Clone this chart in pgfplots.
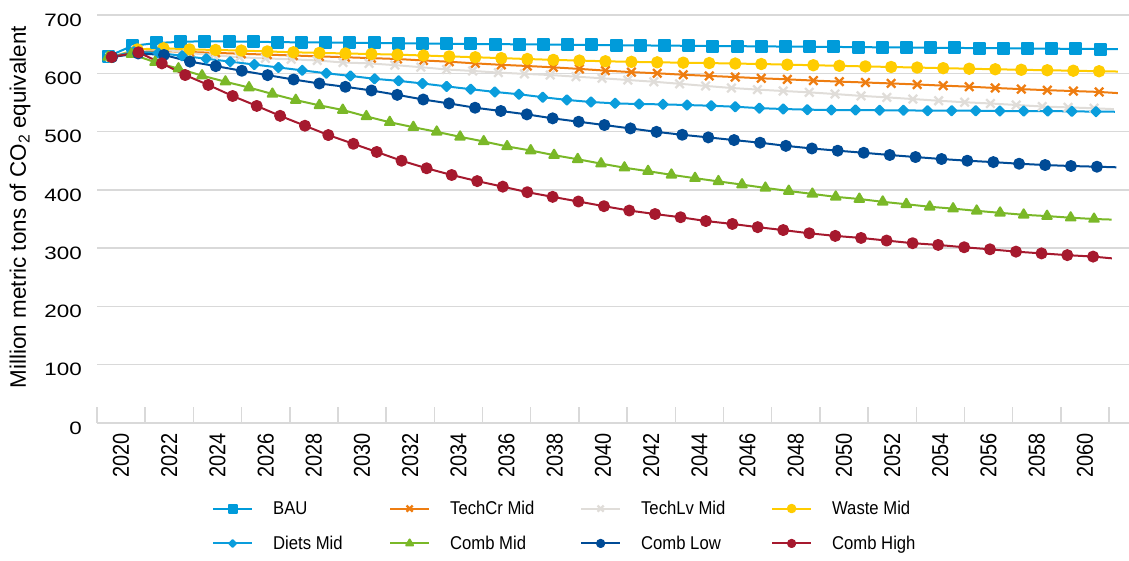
\documentclass[border=0pt]{standalone}
\usepackage{fontspec}
\setmainfont{Liberation Sans}
\usepackage{pgfplots}
\pgfplotsset{compat=1.18}
\definecolor{gridgrey}{RGB}{217,217,217}
\definecolor{cBAU}{RGB}{0,155,218}
\definecolor{cDiets}{RGB}{10,157,220}
\definecolor{cTechCr}{RGB}{238,125,17}
\definecolor{cTechLv}{RGB}{224,221,217}
\definecolor{cWaste}{RGB}{255,204,0}
\definecolor{cCombMid}{RGB}{122,184,40}
\definecolor{cCombLow}{RGB}{0,75,150}
\definecolor{cCombHigh}{RGB}{166,25,46}
\newcommand{\lgd}[2]{\makebox[#1][l]{\hspace*{18bp}\scalebox{0.9}[1]{#2}}}
\begin{document}
\begin{tikzpicture}
\useasboundingbox (0,0) rectangle (1129bp,561bp);
\begin{axis}[
  at={(97bp,138bp)}, anchor=south west,
  scale only axis, width=1032bp, height=408bp,
  xmin=2019, xmax=2061.83, ymin=0, ymax=700,
  axis line style={draw=none},
  /pgf/number format/1000 sep={},
  /pgf/number format/assume math mode=true,
  ytick={0,100,...,700},
  ymajorgrids,
  major grid style={draw=gridgrey, line width=1.5bp},
  y tick style={draw=none},
  xtick={2020,2022,...,2060},
  x tick style={draw=none},
  tick align=inside, major tick length=16bp,
  xtick pos=bottom, ytick pos=left,
  extra x ticks={2019,2021,...,2061},
  extra x tick labels={},
  extra x tick style={x tick style={draw=gridgrey, line width=1.5bp}},
  xticklabel={\scalebox{1}[1.15]{\pgfmathprintnumber{\tick}}},
  xticklabel style={yshift=-10bp, rotate=90, anchor=east, inner sep=0pt, font=\fontsize{20}{24}\selectfont},
  yticklabel={\scalebox{1.25}[1]{\pgfmathprintnumber{\tick}}},
  yticklabel style={anchor=east, inner sep=0pt, xshift=-15bp, yshift=-5bp, font=\fontsize{18}{22}\selectfont},
  ylabel={Million metric tons of CO\textsubscript{2} equivalent},
  ylabel style={at={(axis description cs:-0.0746,0.529)}, anchor=center, font=\fontsize{22.5}{26}\selectfont},
  legend columns=4,
  legend cell align=left,
  legend style={at={(0.1114,-0.186)}, anchor=north west, draw=none, fill=none, inner sep=0pt,
    font=\fontsize{18.6}{22}\selectfont,
    /tikz/every even column/.append style={column sep=0bp}, row sep=16bp},
  legend image code/.code={\draw[mark repeat=2,mark phase=2,#1,every mark/.append style={scale=0.72}] plot coordinates {(0bp,0bp) (19.5bp,0bp) (39bp,0bp)};},
  every axis plot/.append style={line width=2bp, line join=round},
]
% line ends beyond the last marker
\addplot[forget plot, no markers, color=cBAU] coordinates {(2060.63,641.6) (2061.37,641.3)};
\addplot[forget plot, no markers, color=cTechCr] coordinates {(2060.59,568) (2061.37,566)};
\addplot[forget plot, no markers, color=cTechLv] coordinates {(2060.38,540) (2061.2,538.5)};
\addplot[forget plot, no markers, color=cWaste] coordinates {(2060.59,603.5) (2061.37,603)};
\addplot[forget plot, no markers, color=cDiets] coordinates {(2060.46,534.2) (2061.24,534)};
\addplot[forget plot, no markers, color=cCombMid] coordinates {(2060.38,350) (2061.11,349)};
\addplot[forget plot, no markers, color=cCombLow] coordinates {(2060.50,439.7) (2061.31,438.7)};
\addplot[forget plot, no markers, color=cCombHigh] coordinates {(2060.34,285.5) (2061.12,282.5)};

% BAU
\addplot[color=cBAU, mark=square*, mark size=5.5bp] coordinates {
(2019.46,629) (2020.46,647) (2021.47,652) (2022.47,654) (2023.48,655) (2024.48,654.5) (2025.48,654) (2026.49,653.5) (2027.49,653) (2028.50,652.8) (2029.50,652.5) (2030.51,652) (2031.51,651.5) (2032.51,651) (2033.52,650.6) (2034.52,650.3) (2035.53,650) (2036.53,649.7) (2037.53,649.4) (2038.54,649) (2039.54,648.6) (2040.55,648.2) (2041.55,647.8) (2042.55,647.5) (2043.56,647.1) (2044.56,646.8) (2045.57,646.5) (2046.57,646.2) (2047.57,645.8) (2048.58,645.5) (2049.58,645.2) (2050.59,644.9) (2051.59,644.5) (2052.60,644.2) (2053.60,643.9) (2054.60,643.5) (2055.61,643.2) (2056.61,642.9) (2057.62,642.5) (2058.62,642.2) (2059.62,641.9) (2060.63,641.6)};
\addlegendentry{\lgd{132bp}{BAU}}
% TechCr Mid
\addplot[color=cTechCr, mark=x, mark size=6bp, mark options={line width=2.3bp}] coordinates {
(2019.60,628) (2020.68,638) (2021.76,638) (2022.84,636.5) (2023.92,635) (2024.99,633.5) (2026.07,632) (2027.15,630.5) (2028.23,629) (2029.31,627.5) (2030.39,626) (2031.47,624.5) (2032.55,622) (2033.62,619.8) (2034.70,617) (2035.78,614.5) (2036.86,612.5) (2037.94,610.2) (2039.02,607.5) (2040.10,604.6) (2041.18,602) (2042.25,600) (2043.33,597.5) (2044.41,595.5) (2045.49,593.5) (2046.57,591.4) (2047.65,589.6) (2048.73,587.5) (2049.81,585.7) (2050.89,584.2) (2051.96,582.6) (2053.04,580.8) (2054.12,578.8) (2055.20,577) (2056.28,574.8) (2057.36,572.8) (2058.44,571) (2059.52,569.5) (2060.59,568)};
\addlegendentry{\lgd{146bp}{TechCr Mid}}
% TechLv Mid
\addplot[color=cTechLv, mark=x, mark size=6bp, mark options={line width=2.3bp}] coordinates {
(2019.54,628) (2020.61,640) (2021.69,641) (2022.76,635) (2023.84,631) (2024.91,627.5) (2025.99,625.5) (2027.06,624) (2028.14,622) (2029.21,618.5) (2030.29,617) (2031.36,614) (2032.44,610.5) (2033.51,606.5) (2034.59,604) (2035.66,601.2) (2036.74,599) (2037.81,597) (2038.88,594.2) (2039.96,591.5) (2041.03,588.5) (2042.11,585.5) (2043.18,582) (2044.26,578.3) (2045.33,574.8) (2046.41,572) (2047.48,569.6) (2048.56,567.3) (2049.63,564.4) (2050.71,561.2) (2051.78,558.7) (2052.86,555.8) (2053.93,552.9) (2055.01,550.3) (2056.08,548.2) (2057.15,545.6) (2058.23,543) (2059.30,541.5) (2060.38,540)};
\addlegendentry{\lgd{146bp}{TechLv Mid}}
% Waste Mid
\addplot[color=cWaste, mark=*, mark size=5.2bp] coordinates {
(2019.60,628) (2020.68,641) (2021.76,643) (2022.84,641) (2023.92,640) (2024.99,639) (2026.07,637.5) (2027.15,636) (2028.23,635) (2029.31,634) (2030.39,633) (2031.47,632) (2032.55,630.5) (2033.62,629) (2034.70,627.5) (2035.78,626) (2036.86,624.5) (2037.94,623) (2039.02,621.8) (2040.10,620.6) (2041.18,619.6) (2042.25,618.8) (2043.33,618.2) (2044.41,617.5) (2045.49,616.7) (2046.57,615.9) (2047.65,614.8) (2048.73,613.8) (2049.81,612.8) (2050.89,611.8) (2051.96,610.8) (2053.04,609.8) (2054.12,608.8) (2055.20,607.8) (2056.28,606.9) (2057.36,606) (2058.44,605.2) (2059.52,604.4) (2060.59,603.5)};
\addlegendentry{\lgd{110bp}{Waste Mid}}
% Diets Mid
\addplot[color=cDiets, mark=square*, mark size=3.3bp, mark options={rotate=45}] coordinates {
(2019.54,628) (2020.54,637) (2021.54,635) (2022.53,630) (2023.53,625) (2024.53,620) (2025.53,615) (2026.53,610) (2027.52,605) (2028.52,600) (2029.52,595.5) (2030.52,590.5) (2031.52,587) (2032.51,582.5) (2033.51,577.5) (2034.51,572.7) (2035.51,568) (2036.51,564) (2037.50,559) (2038.50,554.3) (2039.50,550.7) (2040.50,548.4) (2041.50,547.2) (2042.49,546.7) (2043.49,545.5) (2044.49,544.3) (2045.49,542.6) (2046.49,540.2) (2047.48,538.7) (2048.48,537.6) (2049.48,537) (2050.48,537) (2051.48,536.6) (2052.47,536.4) (2053.47,535.9) (2054.47,535.8) (2055.47,535.7) (2056.47,535.3) (2057.46,535.2) (2058.46,535.1) (2059.46,534.7) (2060.46,534.2)};
\addlegendentry{\lgd{132bp}{Diets Mid}}
% Comb Mid
\addplot[color=cCombMid, mark=triangle*, mark size=5.5bp] coordinates {
(2019.46,628) (2020.43,633) (2021.41,619) (2022.38,608) (2023.36,596) (2024.33,585.5) (2025.31,575.5) (2026.28,564.5) (2027.25,554) (2028.23,545) (2029.20,537) (2030.18,526) (2031.15,516) (2032.13,507.5) (2033.10,499.5) (2034.07,491) (2035.05,483) (2036.02,474.5) (2037.00,467.5) (2037.97,459.5) (2038.95,452.5) (2039.92,445) (2040.89,438) (2041.87,432) (2042.84,425.8) (2043.82,420) (2044.79,414.5) (2045.77,409) (2046.74,403.3) (2047.71,398) (2048.69,393) (2049.66,388) (2050.64,384.3) (2051.61,379.5) (2052.59,375.3) (2053.56,371) (2054.53,367.8) (2055.51,364) (2056.48,360.6) (2057.46,357.2) (2058.43,355) (2059.41,352.2) (2060.38,350)};
\addlegendentry{\lgd{146bp}{Comb Mid}}
% Comb Low
\addplot[color=cCombLow, mark=*, mark size=5bp] coordinates {
(2019.63,628) (2020.71,634) (2021.78,631.5) (2022.86,620) (2023.93,612.3) (2025.01,604.3) (2026.08,596.8) (2027.16,589.3) (2028.23,582.5) (2029.31,576.8) (2030.39,570.5) (2031.46,563) (2032.54,555) (2033.61,548.3) (2034.69,540.9) (2035.76,535.3) (2036.84,529.5) (2037.91,522.7) (2038.99,516.9) (2040.06,511.2) (2041.14,505.4) (2042.22,499.5) (2043.29,494.5) (2044.37,490) (2045.44,485.4) (2046.52,480.9) (2047.59,475.5) (2048.67,471) (2049.74,467.2) (2050.82,463.6) (2051.90,459.8) (2052.97,456.3) (2054.05,452.9) (2055.12,450) (2056.20,447.6) (2057.27,444.8) (2058.35,442.6) (2059.42,440.9) (2060.50,439.7)};
\addlegendentry{\lgd{146bp}{Comb Low}}
% Comb High
\addplot[color=cCombHigh, mark=*, mark size=5bp] coordinates {
(2019.61,628) (2020.72,636) (2021.69,617) (2022.66,597) (2023.62,580) (2024.63,561) (2025.63,544) (2026.60,527) (2027.63,510) (2028.60,494) (2029.64,479) (2030.61,465) (2031.64,450) (2032.68,437) (2033.72,425.5) (2034.78,415) (2035.84,405.5) (2036.86,396) (2037.91,388) (2038.98,380) (2040.04,372) (2041.09,364.5) (2042.16,358.5) (2043.22,353) (2044.27,346.5) (2045.37,341.5) (2046.42,336) (2047.48,331) (2048.56,325.5) (2049.64,321) (2050.71,317.5) (2051.77,313) (2052.85,308.5) (2053.91,305.5) (2054.99,301.5) (2056.06,298) (2057.14,294) (2058.20,291) (2059.27,288) (2060.34,285.5)};
\addlegendentry{\lgd{110bp}{Comb High}}
\end{axis}
\end{tikzpicture}
\end{document}
